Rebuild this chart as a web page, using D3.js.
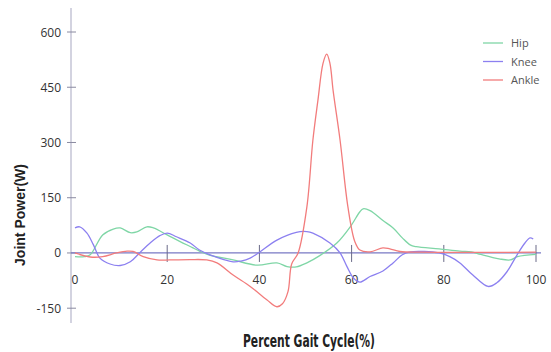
<!DOCTYPE html>
<html>
<head>
<meta charset="utf-8">
<script src="https://cdn.jsdelivr.net/npm/d3@7"></script>
<style>
  body { margin: 0; background: #fff; }
  svg { display: block; font-family: "Open Sans", "DejaVu Sans", sans-serif; }
</style>
</head>
<body>
<div id="chart"></div>
<script>
// values: [percent gait cycle, power W]
const hip = [[0,-10],[2,-10],[3.3,-5],[6,49],[8.3,65],[9.8,68],[12,55],[13.4,57],[15.6,71],[17,68],[20,49],[22.8,31],[25.6,14],[27,5],[29,-5],[34.3,-19],[39.5,-33],[43.8,-27],[46,-37],[48,-38],[50.3,-27],[53,-8],[56.8,27],[59.7,71],[61.8,112],[62.5,120],[64,115],[66.8,88],[69,68],[71,41],[72.7,22],[74,17],[79,11],[83.5,5],[86,3],[88,-4],[92,-16],[94.4,-19],[96,-10],[100,-4]];
const knee = [[0,68],[1,71],[2.6,54],[4,22],[5.4,-14],[7.6,-30],[9.8,-34],[12,-24],[14,0],[16.3,27],[18.4,47],[20,54],[22,44],[25,27],[27,8],[29.3,-5],[34.3,-24],[36,-22],[38,-14],[40,2],[43.8,35],[48,56],[50.3,58],[51.6,54],[55.3,27],[57.5,0],[59,-37],[60.4,-68],[61.8,-79],[64,-64],[66.8,-49],[69,-27],[71,-5],[72.7,3],[79,0],[81.3,-10],[83.5,-27],[86.3,-60],[89.6,-91],[91.5,-81],[93.7,-51],[95.9,-5],[97.6,27],[98.7,41],[99.4,38]];
const ankle = [[0,0],[3.3,-11],[6,-10],[9,0],[11.3,5],[12.6,4],[14.8,-10],[17.8,-19],[20.6,-19],[25,-18],[28.6,-19],[30.8,-27],[34.3,-60],[38,-91],[41.6,-127],[43.8,-146],[45,-138],[46.2,-105],[47,-30],[48.4,0],[50.3,125],[51.6,306],[52.7,415],[53.8,515],[54.6,540],[55.3,515],[56,440],[57.5,306],[59.2,125],[60.7,31],[61.8,8],[64,3],[66.8,14],[68.3,11],[70.5,4],[75,2],[100,2]];

const seriesNames = ["Hip", "Knee", "Ankle"];
const seriesColors = ["#7fd6a6", "#8c80f0", "#f27c7c"];
const xTicks = [0, 20, 40, 60, 80, 100];
const yTicks = [-150, 0, 150, 300, 450, 600];

const width = 551, height = 352;

const svg = d3.select("#chart").append("svg")
  .attr("width", width)
  .attr("height", height);

const x = d3.scaleLinear().domain([0, 100]).range([75, 536]);
const y = d3.scaleLinear().domain([-150, 600]).range([308.2, 32]);

// y axis line + ticks
svg.append("line")
  .attr("x1", 71).attr("x2", 71)
  .attr("y1", y(665)).attr("y2", y(-190))
  .attr("stroke", "#c4c4d6").attr("stroke-width", 1.5);

svg.selectAll("line.ytick")
  .data(yTicks)
  .join("line")
  .attr("class", "ytick")
  .attr("x1", 67).attr("x2", 76)
  .attr("y1", d => y(d)).attr("y2", d => y(d))
  .attr("stroke", "#8a8aa0").attr("stroke-width", 1);

svg.selectAll("text.ylab")
  .data(yTicks)
  .join("text")
  .attr("class", "ylab")
  .attr("x", 61)
  .attr("y", d => y(d) + 4.5)
  .attr("text-anchor", "end")
  .attr("font-size", 12)
  .attr("fill", "#333")
  .text(d => d);

// zero line
svg.append("line")
  .attr("x1", 71).attr("x2", 541)
  .attr("y1", y(0)).attr("y2", y(0))
  .attr("stroke", "#7878c4").attr("stroke-width", 1.2);

svg.selectAll("line.xtick")
  .data(xTicks.slice(1))
  .join("line")
  .attr("class", "xtick")
  .attr("x1", d => x(d)).attr("x2", d => x(d))
  .attr("y1", y(0) - 8).attr("y2", y(0) + 9)
  .attr("stroke", "#6a6a88").attr("stroke-width", 1);

svg.selectAll("text.xlab")
  .data(xTicks)
  .join("text")
  .attr("class", "xlab")
  .attr("x", d => x(d))
  .attr("y", 284)
  .attr("text-anchor", "middle")
  .attr("font-size", 12)
  .attr("fill", "#333")
  .text(d => d);

// lines
const line = d3.line()
  .x(d => x(d[0]))
  .y(d => y(d[1]))
  .curve(d3.curveCatmullRom.alpha(0.5));

[hip, knee, ankle].forEach((s, i) => {
  svg.append("path")
    .datum(s)
    .attr("fill", "none")
    .attr("stroke", seriesColors[i])
    .attr("stroke-width", 1.3)
    .attr("d", line);
});

// legend
const legend = svg.selectAll("g.legend")
  .data(seriesNames)
  .join("g")
  .attr("class", "legend")
  .attr("transform", (d, i) => `translate(483,${43 + i * 18.5})`);

legend.append("line")
  .attr("x1", 0).attr("x2", 20)
  .attr("stroke", (d, i) => seriesColors[i])
  .attr("stroke-width", 1.3);

legend.append("text")
  .attr("x", 28).attr("y", 4)
  .attr("font-size", 11)
  .attr("fill", "#555")
  .text(d => d);

// axis titles
svg.append("text")
  .attr("transform", "translate(25,215) rotate(-90)")
  .attr("text-anchor", "middle")
  .attr("font-size", 14)
  .attr("font-weight", "bold")
  .attr("font-family", "Liberation Sans, Arial, sans-serif")
  .attr("fill", "#222")
  .text("Joint Power(W)");

svg.append("text")
  .attr("x", 243)
  .attr("y", 347)
  .attr("font-size", 18)
  .attr("font-weight", "bold")
  .attr("font-family", "Liberation Sans Narrow, DejaVu Sans Condensed, sans-serif")
  .attr("fill", "#222")
  .attr("textLength", 132)
  .attr("lengthAdjust", "spacingAndGlyphs")
  .text("Percent Gait Cycle(%)");
</script>
</body>
</html>
